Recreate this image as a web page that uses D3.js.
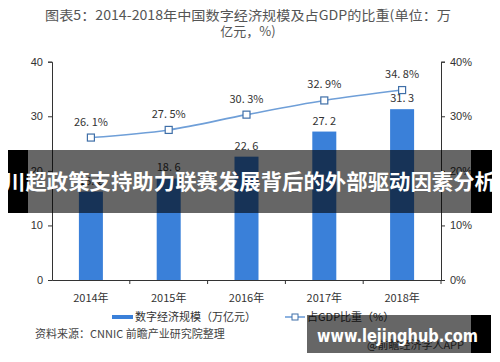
<!DOCTYPE html>
<html>
<head>
<meta charset="utf-8">
<script src="https://cdn.jsdelivr.net/npm/d3@7"></script>
<style>
  body { margin: 0; background: #fff; }
  svg { display: block; font-family: "Noto Sans CJK SC", "Liberation Sans", sans-serif; }
</style>
</head>
<body>
<svg width="500" height="362"></svg>
<script>
// data
const years = ["2014年", "2015年", "2016年", "2017年", "2018年"];
const scaleValues = [16.2, 18.6, 22.6, 27.2, 31.3];   // 万亿元
const gdpShare = [26.1, 27.5, 30.3, 32.9, 34.8];      // %
const leftTicks = [0, 10, 20, 30, 40];
const rightTicks = [0, 10, 20, 30, 40];

const svg = d3.select("svg");
const plotL = 52, plotR = 441, plotT = 61.7, plotB = 280;

const x = d3.scaleBand().domain(years).range([plotL, plotR]).padding(0);
const yL = d3.scaleLinear().domain([0, 40]).range([plotB, plotT]);
const yR = d3.scaleLinear().domain([0, 40]).range([plotB, plotT]);
const barW = 24;
const cx = d => x(d) + x.bandwidth() / 2;

// the "26. 1" look of the original font
const fmt = v => d3.format(".1f")(v).replace(".", ". ");

// title
const title = svg.append("g").attr("fill", "#555").attr("font-size", 13).attr("text-anchor", "middle");
title.append("text").attr("x", 248).attr("y", 20)
  .attr("textLength", 406).attr("lengthAdjust", "spacingAndGlyphs")
  .text("图表5：2014-2018年中国数字经济规模及占GDP的比重(单位：万");
title.append("text").attr("x", 248).attr("y", 36).text("亿元，%)");

// bars
svg.append("g").selectAll("rect")
  .data(scaleValues)
  .join("rect")
    .attr("x", (d, i) => cx(years[i]) - barW / 2)
    .attr("y", d => yL(d))
    .attr("width", barW)
    .attr("height", d => yL(0) - yL(d))
    .attr("fill", "#3a80d9");

svg.append("g").attr("font-size", 11).attr("fill", "#333").attr("text-anchor", "middle")
  .selectAll("text")
  .data(scaleValues)
  .join("text")
    .attr("x", (d, i) => cx(years[i]))
    .attr("y", d => yL(d) - 7)
    .text(d => fmt(d));

// line
const line = d3.line()
  .x((d, i) => cx(years[i]))
  .y(d => yR(d))
  .curve(d3.curveMonotoneX);

svg.append("path")
  .datum(gdpShare)
  .attr("d", line)
  .attr("fill", "none")
  .attr("stroke", "#6f9fd8")
  .attr("stroke-width", 1.6);

svg.append("g").selectAll("rect")
  .data(gdpShare)
  .join("rect")
    .attr("x", (d, i) => cx(years[i]) - 3.5)
    .attr("y", d => yR(d) - 3.5)
    .attr("width", 7)
    .attr("height", 7)
    .attr("fill", "#fff")
    .attr("stroke", "#3f6fa8")
    .attr("stroke-width", 1.2);

svg.append("g").attr("font-size", 11).attr("fill", "#333").attr("text-anchor", "middle")
  .selectAll("text")
  .data(gdpShare)
  .join("text")
    .attr("x", (d, i) => cx(years[i]))
    .attr("y", d => yR(d) - 12)
    .text(d => fmt(d) + "%");

// axes
const axisL = svg.append("g").attr("transform", `translate(${plotL},0)`)
  .call(d3.axisLeft(yL).tickValues(leftTicks).tickSize(4).tickPadding(5));
const axisR = svg.append("g").attr("transform", `translate(${plotR},0)`)
  .call(d3.axisRight(yR).tickValues(rightTicks).tickSize(4).tickPadding(5).tickFormat(d => d + "%"));
const axisB = svg.append("g").attr("transform", `translate(0,${plotB})`)
  .call(d3.axisBottom(x).tickSize(0).tickPadding(14));

[axisL, axisR, axisB].forEach(a => {
  a.select(".domain").attr("stroke", "#333");
  a.selectAll(".tick line").attr("stroke", "#333");
  a.selectAll("text").attr("fill", "#333").attr("font-size", 11)
    .attr("font-family", "'Liberation Sans', 'Noto Sans CJK SC', sans-serif");
});
axisB.selectAll("text").attr("font-family", "'Noto Sans CJK SC', sans-serif");

// category boundary ticks on the x axis
svg.append("g").selectAll("line")
  .data(years.slice(1).concat(["end"]))
  .join("line")
    .attr("x1", d => d === "end" ? plotR : x(d))
    .attr("x2", d => d === "end" ? plotR : x(d))
    .attr("y1", plotB)
    .attr("y2", plotB + 4)
    .attr("stroke", "#333");

// legend
const lg = svg.append("g").attr("font-size", 11).attr("fill", "#333");
lg.append("rect").attr("x", 112).attr("y", 315).attr("width", 21).attr("height", 4).attr("fill", "#3a80d9");
lg.append("text").attr("x", 135).attr("y", 321).text("数字经济规模（万亿元）");
lg.append("line").attr("x1", 285).attr("x2", 305).attr("y1", 317).attr("y2", 317)
  .attr("stroke", "#6f9fd8").attr("stroke-width", 1.6);
lg.append("rect").attr("x", 292).attr("y", 314).attr("width", 6).attr("height", 6)
  .attr("fill", "#fff").attr("stroke", "#3f6fa8");
lg.append("text").attr("x", 307).attr("y", 321).text("占GDP比重（%）");

// source
svg.append("text").attr("x", 35).attr("y", 338).attr("font-size", 11).attr("fill", "#444")
  .text("资料来源：CNNIC 前瞻产业研究院整理");
svg.append("text").attr("x", 367).attr("y", 349).attr("font-size", 11).attr("fill", "#444")
  .text("@前瞻经济学人APP");

// overlay banner
svg.append("rect").attr("x", 8).attr("y", 150).attr("width", 20).attr("height", 63).attr("fill", "#000");
svg.append("rect").attr("x", 28).attr("y", 150).attr("width", 443).attr("height", 63).attr("fill", "rgba(0,0,0,0.6)");
svg.append("rect").attr("x", 471).attr("y", 150).attr("width", 21).attr("height", 63).attr("fill", "#000");
svg.append("text").attr("x", 250).attr("y", 189).attr("text-anchor", "middle")
  .attr("font-size", 21).attr("font-weight", "bold").attr("fill", "#fff")
  .attr("textLength", 492).attr("lengthAdjust", "spacingAndGlyphs")
  .text("川超政策支持助力联赛发展背后的外部驱动因素分析");

// site watermark box
svg.append("rect").attr("x", 307).attr("y", 315).attr("width", 165).attr("height", 38).attr("fill", "rgba(0,0,0,0.6)");
svg.append("rect").attr("x", 471).attr("y", 315).attr("width", 20).attr("height", 38).attr("fill", "#000");
svg.append("text").attr("x", 317).attr("y", 342)
  .attr("font-family", "'DejaVu Sans', sans-serif")
  .attr("font-size", 17).attr("font-weight", "bold").attr("fill", "#fff")
  .attr("textLength", 161).attr("lengthAdjust", "spacingAndGlyphs")
  .text("www.lejinghub.com");
</script>
</body>
</html>
